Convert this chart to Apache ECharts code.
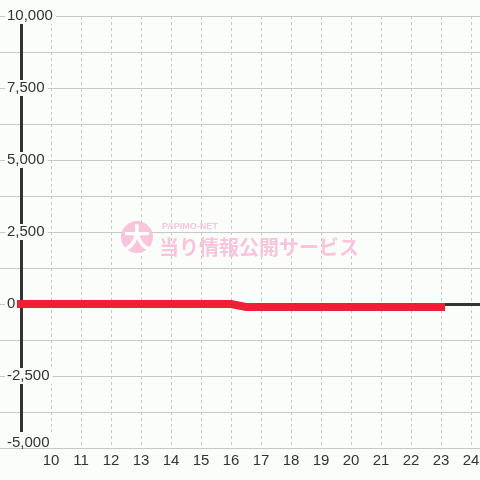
<!DOCTYPE html>
<html>
<head>
<meta charset="utf-8">
<script src="https://cdn.jsdelivr.net/npm/echarts@6/dist/echarts.min.js"></script>
<style>
html,body{margin:0;padding:0;background:#fbfdfb;}
#chart{width:480px;height:480px;}
</style>
</head>
<body>
<div id="chart"></div>
<script>
// Data
const hours = [9, 16, 16.5, 23];
const balance = [0, 0, -100, -100];
const xTickLabels = [10, 11, 12, 13, 14, 15, 16, 17, 18, 19, 20, 21, 22, 23, 24];
const yTickLabels = [-5000, -2500, 0, 2500, 5000, 7500, 10000];
const watermarkSmall = 'PAPIMO-NET';
const watermarkMain = '当り情報公開サービス';
const watermarkBadge = '大';

const BG = '#fbfdfb';
const PINK = '#f9c5da';
const FONT = '"Liberation Sans", Arial, sans-serif';
const CJK = '"Noto Sans CJK JP", sans-serif';

const lineData = hours.map((h, i) => [h, balance[i]]);

const chart = echarts.init(document.getElementById('chart'), null, {renderer: 'canvas'});
chart.setOption({
  animation: false,
  backgroundColor: BG,
  grid: {left: -9, right: -21, top: 16, bottom: 32, containLabel: false, outerBoundsMode: 'none'},
  xAxis: [{
    type: 'value', min: 8, max: 25, interval: 1, z: 0,
    axisLine: {show: false}, axisTick: {show: false},
    splitLine: {show: true, lineStyle: {color: '#c8c8c8', width: 1, type: [3, 3]}},
    axisLabel: {
      show: true, margin: 5, color: '#333', fontSize: 15, fontFamily: FONT,
      formatter: v => xTickLabels.indexOf(v) >= 0 ? String(v) : ''
    }
  }],
  yAxis: [{
    type: 'value', position: 'left', min: -5000, max: 10000, interval: 1250, z: 0,
    axisLine: {show: false}, axisTick: {show: false}, axisLabel: {show: false},
    splitLine: {show: true, lineStyle: {color: '#c8c8c8', width: 1}}
  }, {
    type: 'value', position: 'left', offset: 0, min: -5000, max: 10000, interval: 2500, z: 3,
    axisLine: {show: false}, axisTick: {show: false}, splitLine: {show: false},
    axisLabel: {
      show: true, inside: true, align: 'left', margin: 14,
      color: '#333', fontSize: 15, fontFamily: FONT,
      backgroundColor: BG, padding: [5, 3, 0, 2], lineHeight: 11,
      verticalAlignMinLabel: 'bottom',
      formatter: v => yTickLabels.indexOf(v) >= 0 ? v.toLocaleString('en-US') : ''
    }
  }],
  graphic: [
    {type: 'circle', z: 2, shape: {cx: 137, cy: 237, r: 16}, style: {fill: PINK}, silent: true},
    {type: 'text', z: 2, x: 137, y: 238, silent: true,
      style: {text: watermarkBadge, fill: '#fff', font: 'bold 27px ' + CJK, align: 'center', verticalAlign: 'middle'}},
    {type: 'text', z: 2, x: 162, y: 227, silent: true,
      style: {text: watermarkSmall, fill: PINK, font: 'bold 9px ' + FONT, align: 'left', verticalAlign: 'middle'}},
    {type: 'text', z: 2, x: 159, y: 247, silent: true,
      style: {text: watermarkMain, fill: PINK, font: 'bold 20px ' + CJK, align: 'left', verticalAlign: 'middle'}}
  ],
  series: [{
    type: 'line', xAxisIndex: 0, yAxisIndex: 0, z: 4,
    data: lineData, symbol: 'none', showSymbol: false, silent: true,
    lineStyle: {color: '#ed2035', width: 8, cap: 'square', join: 'miter'},
    markLine: {
      silent: true, z: 1, symbol: 'none', animation: false,
      label: {show: false},
      lineStyle: {color: '#333', width: 3, type: 'solid'},
      emphasis: {disabled: true},
      data: [
        [{coord: [hours[0], -5000]}, {coord: [hours[0], 10000]}],
        [{coord: [hours[0], 0]}, {coord: [24.9, 0]}]
      ]
    }
  }]
});
</script>
</body>
</html>
